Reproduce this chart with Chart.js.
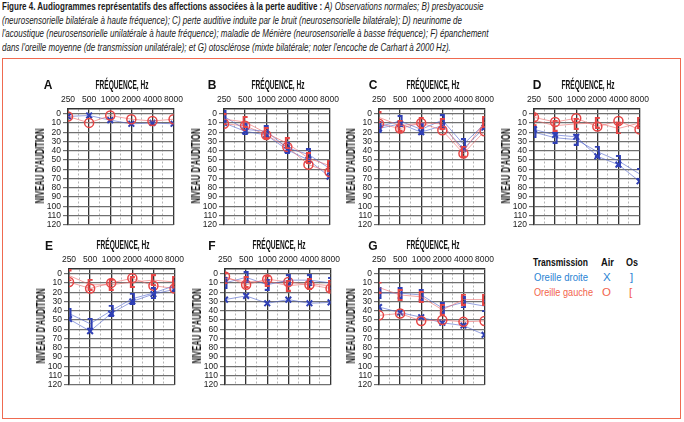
<!DOCTYPE html>
<html>
<head>
<meta charset="utf-8">
<script src="https://cdn.jsdelivr.net/npm/chart.js@4.4.0/dist/chart.umd.min.js"></script>
<style>
  body { margin:0; width:684px; height:422px; background:#fff; position:relative; overflow:hidden;
         font-family:"Liberation Sans",Arial,sans-serif; color:#222; }
  #caption { position:absolute; left:2px; top:0px; font-size:11.5px; line-height:13.6px; white-space:nowrap; transform-origin:0 0; color:#1a1a1a; }
  #caption span { display:block; width:max-content; }
  #frame { position:absolute; left:2px; top:58px; width:677px; height:359px; border:1.5px solid #ef6a50; }
  canvas.panel { position:absolute; }
  .letter { position:absolute; font-weight:bold; font-size:12px; transform:translate(-50%,-50%); color:#111; }
  .ttl { position:absolute; font-weight:bold; font-size:12px; white-space:nowrap; color:#111; }
  .leg { position:absolute; font-size:11.5px; white-space:nowrap; transform-origin:0 50%; }
</style>
</head>
<body>
<div id="caption">
  <span id="l1"><b>Figure 4. Audiogrammes représentatifs des affections associées à la perte auditive :</b> <i>A) Observations normales; B) presbyacousie</i></span>
  <span id="l2"><i>(neurosensorielle bilatérale à haute fréquence); C) perte auditive induite par le bruit (neurosensorielle bilatérale); D) neurinome de</i></span>
  <span id="l3"><i>l'acoustique (neurosensorielle unilatérale à haute fréquence); maladie de Ménière (neurosensorielle à basse fréquence); F) épanchement</i></span>
  <span id="l4"><i>dans l'oreille moyenne (de transmission unilatérale); et G) otosclérose (mixte bilatérale; noter l'encoche de Carhart à 2000 Hz).</i></span>
</div>
<div id="frame"></div>

<div class="leg" data-w="55" style="left:533px;top:262px;font-weight:bold;color:#111">Transmission</div>
<div class="leg" data-w="13" style="left:601px;top:262px;font-weight:bold;color:#111">Air</div>
<div class="leg" data-w="12" style="left:626px;top:262px;font-weight:bold;color:#111">Os</div>
<div class="leg" data-w="54" style="left:534px;top:277px;color:#2b83d3">Oreille droite</div>
<div class="leg" style="left:603px;top:277px;color:#2b83d3">X</div>
<div class="leg" style="left:630px;top:277px;color:#2b83d3">]</div>
<div class="leg" data-w="59" style="left:534px;top:292px;color:#f2644c">Oreille gauche</div>
<div class="leg" style="left:602px;top:292px;color:#f2644c">O</div>
<div class="leg" style="left:629px;top:292px;color:#f2644c">[</div>

<script>
// frequencies on the top axis
const frequencies = ['250', '500', '1000', '2000', '4000', '8000'];
const letters = ['A', 'B', 'C', 'D', 'E', 'F', 'G'];
const xTitle = 'FRÉQUENCE, Hz';
const yTitle = "NIVEAU D'AUDITION";

// A) normal
const aRightAir = [3, 2, 7, 11, 10, 11];
const aLeftAir = [3, 10, 2, 6, 8, 6];
// B) presbyacousie
const bRightAir = [10, 19, 23, 39, 50, 68];
const bRightBone = [3, 17, 19, 37, 44, 59];
const bLeftAir = [11, 13, 23, 36, 55, 63];
const bLeftBone = [6, 9, 21, 32, 48, 56];
// C) bruit
const cRightAir = [16, 11, 20, 13, 38, 15];
const cRightBone = [14, 8, 17, 7, 33, 11];
const cLeftAir = [11, 16, 10, 18, 43, 19];
const cLeftBone = [4, 13, 10, 11, 41, 9];
// D) neurinome
const dRightAir = [17, 23, 25, 46, 55, 73];
const dRightBone = [20, 26, 28, 41, 51, 65];
const dLeftAir = [4, 9, 5, 14, 8, 17];
const dLeftBone = [7, 13, 11, 10, 16, 10];
// E) Ménière
const eRightAir = [49, 62, 43, 30, 22, 17];
const eRightBone = [43, 54, 40, 27, 21, 13];
const eLeftAir = [9, 16, 10, 5, 13, 16];
const eLeftBone = [2, 12, 12, 9, 7, 9];
// F) epanchement
const fRightAir = [28, 24, 32, 28, 32, 31];
const fRightBone = [10, 4, 12, 7, 7, 10];
const fLeftAir = [3, 12, 6, 9, 12, 16];
const fLeftBone = [5, 9, 8, 13, 11, 13];
// G) otosclerose
const gRightAir = [36, 42, 47, 53, 56, 66];
const gRightBone = [21, 21, 23, 37, 31, 35];
const gLeftAir = [45, 43, 51, 50, 52, 51];
const gLeftBone = [15, 23, 25, 39, 28, 28];

const panels = [
  [aRightAir, null, aLeftAir, null],
  [bRightAir, bRightBone, bLeftAir, bLeftBone],
  [cRightAir, cRightBone, cLeftAir, cLeftBone],
  [dRightAir, dRightBone, dLeftAir, dLeftBone],
  [eRightAir, eRightBone, eLeftAir, eLeftBone],
  [fRightAir, fRightBone, fLeftAir, fLeftBone],
  [gRightAir, gRightBone, gLeftAir, gLeftBone]
];

// layout: top-left of each plot area, and letter position
const boxes = [[68,109],[224,109],[379,109],[534,109],[69,269],[225,269],[379,269]];
const letterPos = [[48,85],[212,85],[373,85],[537,85],[49,246],[212,246],[373,246]];
const W = 107, H = 117, Y_W = 36, X_H = 30, PAD_R = 12, PAD_B = 6;

const FONT = '"Liberation Sans", Arial, sans-serif';
const BLUE = '#2f3fb5', BLUE_LINE = 'rgba(80,100,205,0.6)';
const RED = '#e64545', RED_LINE = 'rgba(236,105,105,0.6)';

function bracket(color, side) {
  const c = document.createElement('canvas');
  c.width = 7; c.height = 12;
  const g = c.getContext('2d');
  g.strokeStyle = color; g.lineWidth = 2;
  g.beginPath();
  if (side === ']') { g.moveTo(1, 1); g.lineTo(5, 1); g.lineTo(5, 11); g.lineTo(1, 11); }
  else { g.moveTo(6, 1); g.lineTo(2, 1); g.lineTo(2, 11); g.lineTo(6, 11); }
  g.stroke();
  return c;
}
const rightBracket = bracket(BLUE, ']');
const leftBracket = bracket(RED, '[');

function series(values, color, line, style, radius, bw) {
  return {
    data: values.map((v, i) => ({ x: i, y: v })),
    borderColor: line, borderWidth: 1,
    pointStyle: style, pointRadius: radius, pointBorderColor: color,
    pointBackgroundColor: 'rgba(0,0,0,0)', pointBorderWidth: bw
  };
}

function fitText(el, target) {
  const w = el.getBoundingClientRect().width;
  return target / w;
}

const isMinor = c => c.tick && !Number.isInteger(c.tick.value);

panels.forEach((p, k) => {
  const [bx, by] = boxes[k];
  const cv = document.createElement('canvas');
  cv.className = 'panel';
  cv.width = Y_W + W + PAD_R;
  cv.height = X_H + H + PAD_B;
  cv.style.left = (bx - Y_W) + 'px';
  cv.style.top = (by - X_H) + 'px';
  document.body.appendChild(cv);

  const lt = document.createElement('div');
  lt.className = 'letter';
  lt.textContent = letters[k];
  lt.style.left = letterPos[k][0] + 'px';
  lt.style.top = letterPos[k][1] + 'px';
  document.body.appendChild(lt);

  const xt = document.createElement('div');
  xt.className = 'ttl';
  xt.textContent = xTitle;
  document.body.appendChild(xt);
  xt.style.left = (bx + W / 2) + 'px';
  xt.style.top = (by - 24) + 'px';
  xt.style.transform = 'translate(-50%,-50%) scaleX(' + fitText(xt, 53) + ')';

  const yt = document.createElement('div');
  yt.className = 'ttl';
  yt.textContent = yTitle;
  document.body.appendChild(yt);
  yt.style.left = (bx - 28) + 'px';
  yt.style.top = (by + 57) + 'px';
  yt.style.transform = 'translate(-50%,-50%) rotate(-90deg) scaleX(' + fitText(yt, 75) + ')';

  const ds = [];
  if (p[3]) ds.push(series(p[3], RED, RED_LINE, leftBracket, 5, 1));
  if (p[1]) ds.push(series(p[1], BLUE, BLUE_LINE, rightBracket, 5, 1));
  ds.push(series(p[2], RED, RED_LINE, 'circle', 4.5, 1.5));
  ds.push(series(p[0], BLUE, BLUE_LINE, 'crossRot', 4, 2));

  new Chart(cv, {
    type: 'line',
    data: { datasets: ds },
    options: {
      responsive: false, animation: false,
      layout: { padding: { left: 0, top: 0, right: PAD_R, bottom: PAD_B } },
      plugins: { legend: { display: false }, tooltip: { enabled: false } },
      scales: {
        x: {
          type: 'linear', position: 'top', min: 0, max: 5,
          afterFit: s => { s.height = X_H; },
          ticks: {
            stepSize: 0.5, autoSkip: false, maxRotation: 0, padding: 4, color: '#222',
            font: { family: FONT, size: 8.5 },
            callback: v => Number.isInteger(v) ? frequencies[v] : ''
          },
          grid: {
            drawTicks: false,
            color: c => isMinor(c) ? '#b5b5b5' : '#333',
            lineWidth: c => isMinor(c) ? 1 : 1.3
          },
          border: { color: '#333', width: 1.5, dash: c => isMinor(c) ? [2, 2] : [] }
        },
        y: {
          reverse: true, min: -5, max: 120,
          afterFit: s => { s.width = Y_W; },
          ticks: {
            stepSize: 10, autoSkip: false, includeBounds: false, padding: 2, color: '#222',
            font: { family: FONT, size: 8.5 },
            callback: v => String(v)
          },
          grid: { color: '#707070', lineWidth: 1.2, tickLength: 5 },
          border: { color: '#333', width: 1.5 }
        }
      }
    }
  });
});

// fit caption lines to the reference width
const cap = document.getElementById('caption');
cap.style.transform = 'scaleX(' + fitText(document.getElementById('l2'), 460) + ')';

// condense legend texts
document.querySelectorAll('.leg').forEach(el => {
  const s = el.dataset.w ? fitText(el, +el.dataset.w) : 1;
  el.style.transform = 'translateY(-50%) scaleX(' + s + ')';
});
</script>
</body>
</html>
